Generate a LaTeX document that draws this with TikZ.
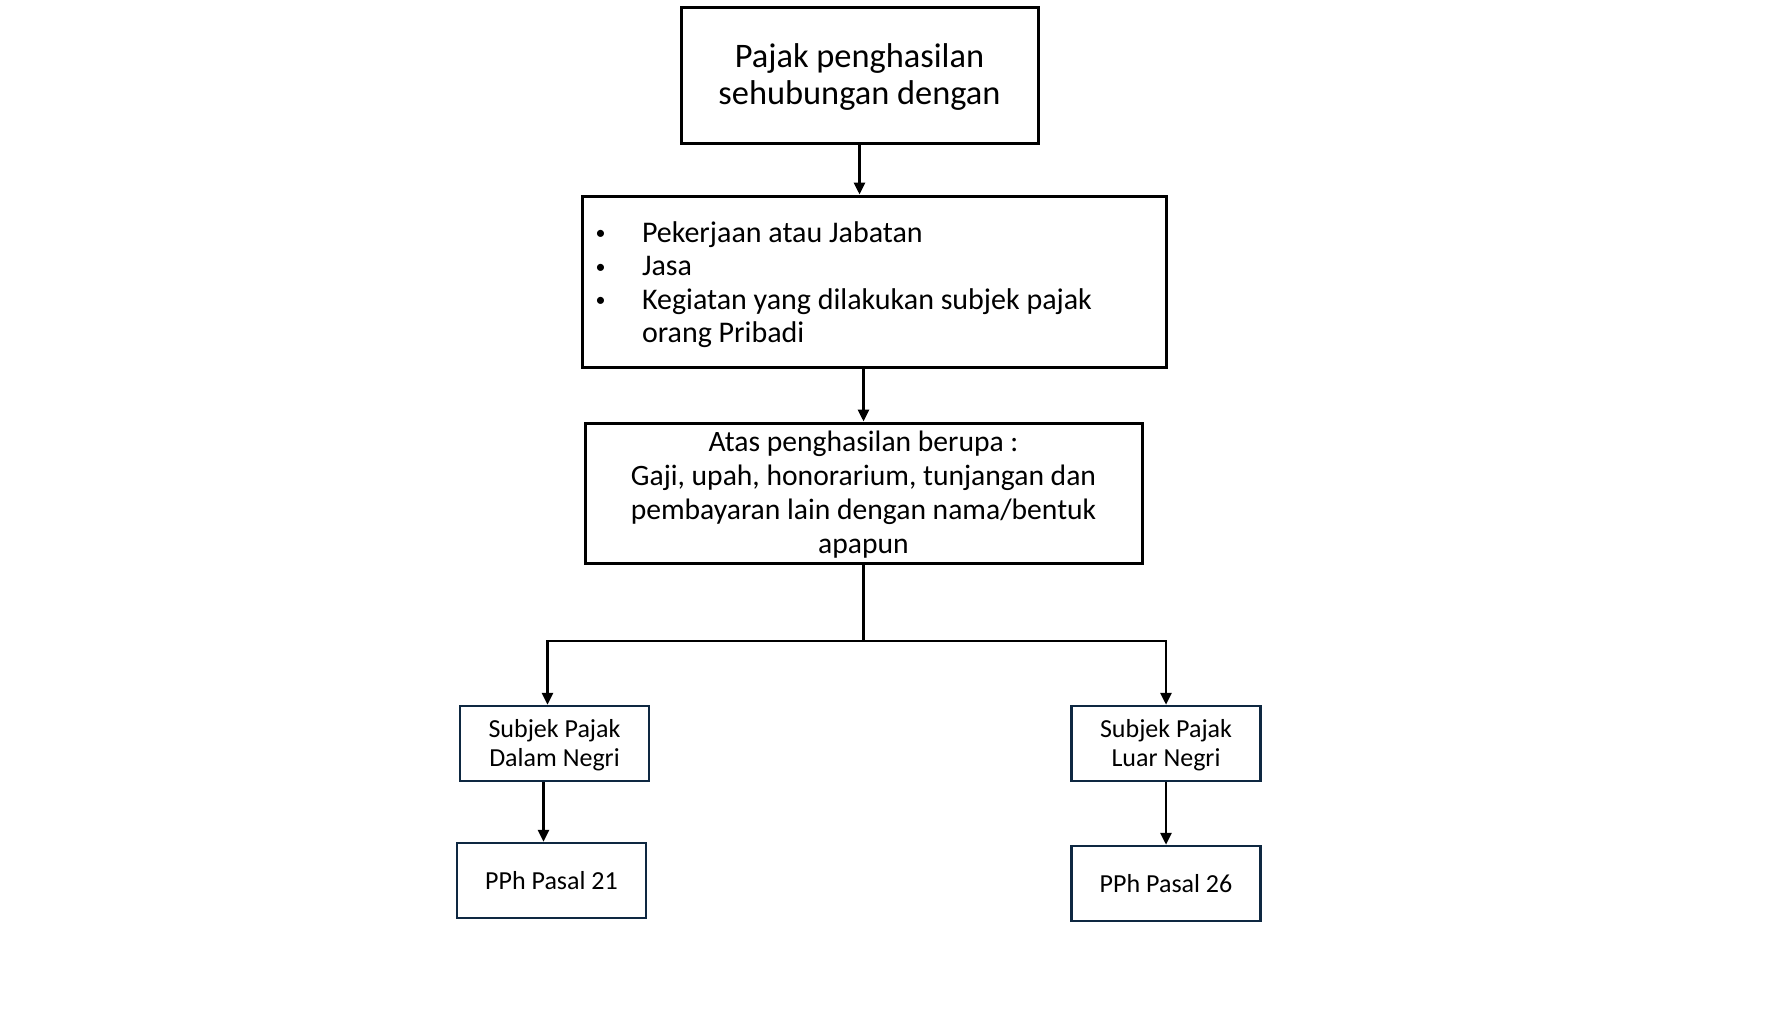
\documentclass[tikz,border=0pt]{standalone}
\usepackage{fontspec}
\setmainfont{Carlito}
\usetikzlibrary{arrows.meta, positioning, calc}

\definecolor{navy}{HTML}{0E2841}
\newcommand{\itm}{\makebox[22pt][l]{\hspace*{-1.2pt}\raisebox{1.2pt}{\fontsize{10}{10}\selectfont •}}}

\begin{document}
\begin{tikzpicture}[
    x=0.5pt, y=-0.5pt,
    box/.style={draw, line width=1.5pt, inner sep=0pt, align=center},
    leaf/.style={box, draw=navy, line width=1.25pt,
                 minimum width=94.5pt, minimum height=37.5pt,
                 font=\fontsize{13}{14.7}\selectfont},
    flow/.style={-{Triangle[length=6pt, width=5.5pt]}, line width=1.4pt},
]
\useasboundingbox (0,0) rectangle (1775,1014);

% --- top: subject of the tax -----------------------------------------------------
\node[box, minimum width=178.5pt, minimum height=68pt,
      font=\fontsize{17.2}{18.75}\selectfont] (pajak) at (859.5,75)
    {\rule{0pt}{14pt}Pajak penghasilan\\sehubungan dengan};

% --- list of activities ----------------------------------------------------------
\node[box, minimum width=292pt, minimum height=85.5pt, inner xsep=8pt,
      text width=276pt, align=left, font=\fontsize{15}{16.8}\selectfont] (kegiatan) at (874,281.5)
    {\spaceskip=0pt \xspaceskip=0pt
     \rule{0pt}{13.5pt}\itm Pekerjaan atau Jabatan\\
     \itm Jasa\\
     \itm Kegiatan yang dilakukan subjek pajak\\
     \hspace*{22pt}orang Pribadi};

% --- kinds of income -------------------------------------------------------------
\node[box, minimum width=278.5pt, minimum height=70pt,
      font=\fontsize{14.8}{17}\selectfont] (berupa) at (863.5,493)
    {\rule{0pt}{12pt}Atas penghasilan berupa :\\Gaji, upah, honorarium, tunjangan dan\\
     pembayaran lain dengan nama/bentuk\\apapun};

\draw[flow] (pajak.south) -- (pajak.south |- kegiatan.north);
\draw[flow] (berupa.north |- kegiatan.south) -- (berupa.north);

% --- split: domestic / foreign subject ------------------------------------------
\node[leaf] (sdn) at (554.5,743.5) {\rule{0pt}{11pt}Subjek Pajak\\Dalam Negri};
\node[leaf] (sln) at (1166,743.5) {\rule{0pt}{11pt}Subjek Pajak\\Luar Negri};
\coordinate (fork) at (berupa.south |- 0,641);
\draw[line width=1.4pt] (berupa.south) -- (fork);
\draw[flow] (fork) -| ([xshift=-3.5pt]sdn.north);
\draw[flow] (fork) -| (sln.north);

% --- resulting articles -----------------------------------------------------------
\node[leaf] (pph21) at (551.5,880.5) {PPh Pasal 21};
\node[leaf] (pph26) at (1166,883.5) {PPh Pasal 26};
\draw[flow] ([xshift=-4pt]pph21.north |- sdn.south) -- ([xshift=-4pt]pph21.north);
\draw[flow] (pph26.north |- sln.south) -- (pph26.north);

\end{tikzpicture}
\end{document}
